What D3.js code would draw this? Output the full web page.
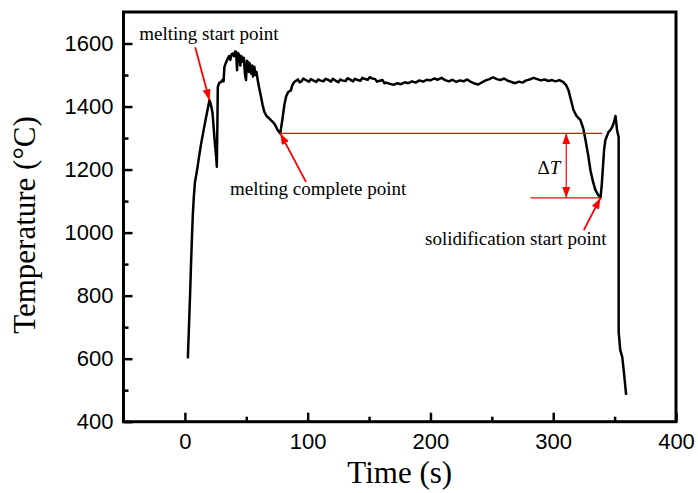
<!DOCTYPE html>
<html>
<head>
<meta charset="utf-8">
<script src="https://cdn.jsdelivr.net/npm/d3@7"></script>
<style>
  body { margin: 0; background: #fff; }
  svg { display: block; }
</style>
</head>
<body>
<svg id="chart" width="698" height="493"></svg>
<script>
// Temperature curve (time in s, temperature in °C)
const times = [
  2.4, 3.3, 4.2, 5.0, 5.8, 6.5, 7.3, 8.2, 10, 11.5, 13.3, 15.5, 17.3, 19, 20, 21, 22.5, 23.5, 24.5, 25.5, 26,
  26.5, 26.8, 28, 29.5, 30.5, 31.5, 32.2, 33.5, 35, 36, 37, 38, 39, 40, 41, 41.7, 42.5, 43.2, 44.4, 45.2,
  46, 47.2, 48, 49, 49.8, 50.5, 51.2, 52, 52.7, 53.9, 54.8, 55.5, 56.6, 57.5, 58.3, 59.3, 60.5, 62, 63.3, 64.7,
  66.5, 68.8, 70.5, 72.8, 74, 75.6, 77.7, 78.5, 79.7, 81, 82.4, 84, 86.4, 87.5, 89.1,
  92, 93.5, 95, 96.5, 98, 101, 102.5, 104, 107, 108.5, 110, 113, 114.5, 116, 119, 120.5, 122, 125, 126.5, 128,
  131, 132.5, 134, 137, 138.5, 140, 143, 144.5, 146, 149, 150.5, 152, 155, 156.5, 158, 161, 162.5, 164, 167, 170,
  173, 176, 179, 182, 185, 188, 191, 194, 197, 200, 203, 206, 209,
  212, 215, 218, 221, 224, 227, 230, 233, 236, 239, 242, 245, 248, 251, 254, 257, 260, 263, 266, 269,
  272, 275, 278, 281, 284, 287, 290, 293, 296, 299, 302, 305, 308,
  310.5, 312.4, 314.5, 316.5, 319, 322.2, 324.5, 326.3, 328.5, 330.3, 332.5, 334.4, 336.5, 338.5, 339.5,
  340.7, 341.5, 342.5, 345, 346.5, 348, 349, 349.9, 350.7, 351.3, 352, 353.3, 353.3, 354.6, 356.2, 357.5, 359.4
];
const temps = [
  601, 700, 800, 900, 990, 1060, 1115, 1160, 1200, 1240, 1284, 1330, 1367, 1400, 1420, 1410, 1380, 1330, 1280, 1240, 1209,
  1350, 1462, 1475, 1478, 1484, 1480, 1526, 1540, 1553, 1560, 1548, 1566, 1568, 1560, 1575, 1573, 1515, 1570, 1563, 1530,
  1560, 1542, 1555, 1500, 1484, 1545, 1542, 1510, 1538, 1505, 1530, 1495, 1526, 1500, 1510, 1484, 1460, 1431, 1405, 1383,
  1370, 1362, 1355, 1346, 1338, 1325, 1315, 1335, 1367, 1405, 1431, 1445, 1452, 1468, 1478,
  1486, 1477, 1480, 1489, 1485, 1479, 1487, 1484, 1478, 1486, 1483, 1480, 1488, 1486, 1479, 1488, 1484, 1477, 1486, 1483,
  1481, 1490, 1487, 1480, 1488, 1485, 1482, 1491, 1488, 1485, 1493, 1490, 1487, 1479, 1481, 1484, 1474, 1476, 1472, 1469,
  1474, 1471, 1477, 1474, 1480, 1476, 1483, 1479, 1485, 1483, 1489, 1485, 1491,
  1484, 1480, 1485, 1478, 1483, 1480, 1486, 1478, 1473, 1470, 1477, 1483, 1487, 1493, 1487, 1484, 1489, 1482, 1478, 1474,
  1479, 1476, 1483, 1486, 1491, 1487, 1483, 1486, 1481, 1484, 1480, 1484, 1478,
  1468, 1452, 1420, 1389, 1370, 1357, 1330, 1294, 1245, 1198, 1160, 1135, 1120, 1110, 1150,
  1220, 1265, 1294, 1319, 1325, 1335, 1345, 1357, 1370, 1350, 1325, 1303, 685, 627, 606, 560, 485
];

const xMajor = [0, 100, 200, 300, 400];
const xMinor = [50, 150, 250, 350];
const yMajor = [400, 600, 800, 1000, 1200, 1400, 1600];
const yMinor = [500, 700, 900, 1100, 1300, 1500];

// Annotation anchors (time, temperature)
const meltStart = [20, 1420];
const meltComplete = [77.7, 1315];
const solidStart = [338.5, 1110];

const svg = d3.select("#chart");
const plotL = 123.5, plotR = 676, plotT = 12, plotB = 421.7;

const x = d3.scaleLinear().domain([-50, 400]).range([plotL, plotR]);
const y = d3.scaleLinear().domain([400, 1700]).range([plotB, plotT]);

// arrow heads
const defs = svg.append("defs");
defs.append("marker")
  .attr("id", "arrow")
  .attr("markerUnits", "userSpaceOnUse")
  .attr("markerWidth", 12).attr("markerHeight", 8)
  .attr("refX", 11).attr("refY", 4)
  .attr("orient", "auto-start-reverse")
  .append("path")
  .attr("d", "M0,0 L11,4 L0,8 Z")
  .attr("fill", "#ff0000");

// axes
const tickFont = "'Liberation Sans', Arial, sans-serif";

function styleAxis(g) {
  g.select(".domain").remove();
  g.selectAll("line").attr("stroke", "#000").attr("stroke-width", 2.5);
  g.selectAll("text").attr("font-family", tickFont).attr("font-size", 22).attr("fill", "#000");
}

svg.append("g")
  .attr("transform", `translate(0,${plotB})`)
  .call(d3.axisBottom(x).tickValues(xMajor).tickSize(-9).tickPadding(12).tickFormat(d3.format("d")))
  .call(styleAxis);
svg.append("g")
  .attr("transform", `translate(0,${plotB})`)
  .call(d3.axisBottom(x).tickValues(xMinor).tickSize(-5).tickFormat(""))
  .call(styleAxis);
svg.append("g")
  .attr("transform", `translate(${plotL},0)`)
  .call(d3.axisLeft(y).tickValues(yMajor).tickSize(-9).tickPadding(10).tickFormat(d3.format("d")))
  .call(styleAxis);
svg.append("g")
  .attr("transform", `translate(${plotL},0)`)
  .call(d3.axisLeft(y).tickValues(yMinor).tickSize(-5).tickFormat(""))
  .call(styleAxis);

// frame
svg.append("rect")
  .attr("x", plotL).attr("y", plotT)
  .attr("width", plotR - plotL).attr("height", plotB - plotT)
  .attr("fill", "none").attr("stroke", "#000").attr("stroke-width", 3);

// axis titles
const serif = "'Liberation Serif', 'Times New Roman', serif";
svg.append("text")
  .attr("x", (plotL + plotR) / 2).attr("y", 483)
  .attr("text-anchor", "middle")
  .attr("font-family", serif).attr("font-size", 31)
  .text("Time (s)");
svg.append("text")
  .attr("transform", "translate(35,225) rotate(-90)")
  .attr("text-anchor", "middle")
  .attr("font-family", serif).attr("font-size", 31)
  .text("Temperature (°C)");

// curve
const data = times.map((t, i) => [t, temps[i]]);
svg.append("path")
  .datum(data)
  .attr("fill", "none")
  .attr("stroke", "#000")
  .attr("stroke-width", 2.5)
  .attr("stroke-linejoin", "round")
  .attr("d", d3.line().x(d => x(d[0])).y(d => y(d[1])));

// annotations
const red = "#ff0000";
function redLine(a, b, w, arrowEnd, arrowStart) {
  const l = svg.append("line")
    .attr("x1", x(a[0])).attr("y1", y(a[1]))
    .attr("x2", x(b[0])).attr("y2", y(b[1]))
    .attr("stroke", red).attr("stroke-width", w);
  if (arrowEnd) l.attr("marker-end", "url(#arrow)");
  if (arrowStart) l.attr("marker-start", "url(#arrow)");
}
function label(t, T, txt) {
  return svg.append("text")
    .attr("x", x(t)).attr("y", y(T))
    .attr("font-family", serif).attr("font-size", 19)
    .text(txt);
}

// reference lines for ΔT
redLine(meltComplete, [339.8, meltComplete[1]], 1.2);
redLine([281.5, solidStart[1]], [339.5, solidStart[1]], 1.2);
redLine([310.6, meltComplete[1]], [310.6, solidStart[1]], 1.2, true, true);

// pointer arrows
redLine([8.4, 1588], meltStart, 1.8, true);
redLine([98.6, 1161], meltComplete, 1.8, true);
redLine([324.9, 1008], solidStart, 1.8, true);

label(-37.2, 1611, "melting start point");
label(36.8, 1119, "melting complete point");
label(195.6, 960, "solidification start point");

const dT = label(287.2, 1186, "Δ");
dT.append("tspan").attr("font-style", "italic").text("T");
</script>
</body>
</html>
